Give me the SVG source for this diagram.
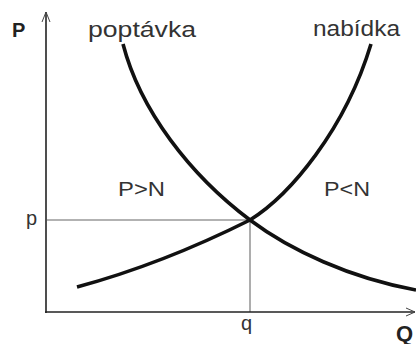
<svg xmlns="http://www.w3.org/2000/svg" width="416" height="344" viewBox="0 0 416 344">
<style>
.lbl{font-family:"Liberation Sans",Arial,sans-serif;fill:#333}
.bold{font-family:"Liberation Sans",Arial,sans-serif;font-weight:bold;fill:#222}
.axis{stroke:#222;stroke-width:1.6;fill:none}
.guide{stroke:#999;stroke-width:1.6;fill:none}
.curve{stroke:#111;stroke-width:3.6;fill:none;stroke-linecap:butt}
.head{stroke:#444;stroke-width:1;fill:none}
</style>
<rect width="416" height="344" fill="#fff"/>
<g id="connectors">
<line class="guide" x1="47" y1="220" x2="250" y2="220"/>
<line class="guide" x1="250" y1="220" x2="250" y2="312"/>
<line class="axis" x1="46" y1="12" x2="46" y2="313"/>
<line class="axis" x1="45" y1="312" x2="415" y2="312"/>
<polyline class="head" points="42,22 46,12 50,22"/>
<polyline class="head" points="406,308 415,312 406,316"/>
<path id="demand" class="curve" d="M123,44 C140,110 190,175 250,220 C290,250 350,278 416,290"/>
<path id="supply" class="curve" d="M77,287 C140,270 200,245 250,220 C290,195 345,130 371,44"/>
</g>
<g id="labels">
<text class="bold" x="12" y="37" font-size="20">P</text>
<text class="lbl" x="88" y="37" font-size="22" textLength="108" lengthAdjust="spacingAndGlyphs">poptávka</text>
<text class="lbl" x="313" y="36" font-size="22" textLength="87" lengthAdjust="spacingAndGlyphs">nabídka</text>
<text class="lbl" x="118" y="196" font-size="20" textLength="47" lengthAdjust="spacingAndGlyphs">P&gt;N</text>
<text class="lbl" x="324" y="196" font-size="20" textLength="46" lengthAdjust="spacingAndGlyphs">P&lt;N</text>
<text class="lbl" x="26" y="225" font-size="20">p</text>
<text class="lbl" x="241" y="330" font-size="20">q</text>
<text class="bold" x="396" y="341" font-size="22">Q</text>
</g>
</svg>
